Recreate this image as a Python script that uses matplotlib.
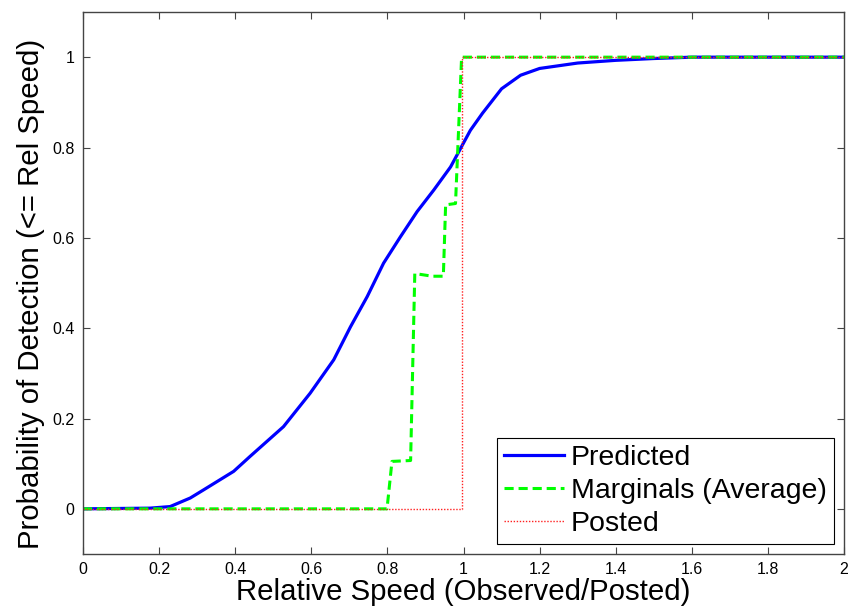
import matplotlib
matplotlib.use("Agg")
import matplotlib.pyplot as plt

plt.rcParams['font.family'] = ['Liberation Sans', 'DejaVu Sans']

# Predicted (blue)
pred_x = [0.0, 0.176, 0.229, 0.282, 0.317, 0.396, 0.439, 0.527, 0.597, 0.659, 0.703,
          0.747, 0.790, 0.834, 0.878, 0.922, 0.966, 1.018, 1.05, 1.1, 1.15, 1.2,
          1.3, 1.4, 1.5, 1.6, 2.0]
pred_y = [0.0, 0.0015, 0.005, 0.024, 0.042, 0.083, 0.116, 0.182, 0.256, 0.330, 0.403,
          0.470, 0.544, 0.602, 0.658, 0.706, 0.757, 0.838, 0.876, 0.93, 0.96, 0.975,
          0.987, 0.993, 0.997, 1.0, 1.0]

# Marginals (Average) - green step curve
marg_x = [0.0, 0.799, 0.812, 0.861, 0.872, 0.918, 0.947, 0.953, 0.979, 0.995, 2.0]
marg_y = [0.0, 0.0, 0.105, 0.107, 0.521, 0.515, 0.515, 0.673, 0.676, 1.0, 1.0]

# Posted - red step
post_x = [0.0, 0.995, 0.995, 2.0]
post_y = [0.0, 0.0, 1.0, 1.0]

fig = plt.figure(figsize=(8.5, 6.06), dpi=100)
ax = fig.add_axes([0.0976, 0.0858, 0.8954, 0.8944])

ax.plot(pred_x, pred_y, color='#0000ff', lw=2.3, label='Predicted')
ax.plot(marg_x, marg_y, color='#00ff00', lw=2.2, ls=(0, (3, 1.6)), label='Marginals (Average)')
ax.plot(post_x, post_y, color='#ff2020', lw=1.0, ls=(0, (1, 1.2)), label='Posted')

ax.set_xlim(0, 2)
ax.set_ylim(-0.1, 1.1)
ax.set_xticks([0, 0.2, 0.4, 0.6, 0.8, 1, 1.2, 1.4, 1.6, 1.8, 2])
ax.set_xticklabels(['0', '0.2', '0.4', '0.6', '0.8', '1', '1.2', '1.4', '1.6', '1.8', '2'])
ax.set_yticks([0, 0.2, 0.4, 0.6, 0.8, 1])
ax.set_yticklabels(['0', '0.2', '0.4', '0.6', '0.8', '1'])
ax.tick_params(direction='in', length=5, width=0.8, color='#444444', labelsize=11.5,
               top=True, right=True, pad=6)
for s in ax.spines.values():
    s.set_color('#444444')
    s.set_linewidth(1.0)

ax.set_xlabel('Relative Speed (Observed/Posted)', fontsize=21.2)
ax.set_ylabel('Probability of Detection (<= Rel Speed)', fontsize=21.2)
ax.xaxis.set_label_coords(0.5, -0.045, transform=ax.transAxes)
ax.yaxis.set_label_coords(-0.05, 0.48, transform=ax.transAxes)
ax.xaxis.label.set_va('top')

leg = ax.legend(loc='lower right', fontsize=20.5, fancybox=False, framealpha=1,
                edgecolor='black', handlelength=2.1, handletextpad=0.25,
                borderpad=0.25, labelspacing=0.25, borderaxespad=0.35)
leg.get_frame().set_linewidth(0.8)

fig.savefig('out.png', dpi=100)
